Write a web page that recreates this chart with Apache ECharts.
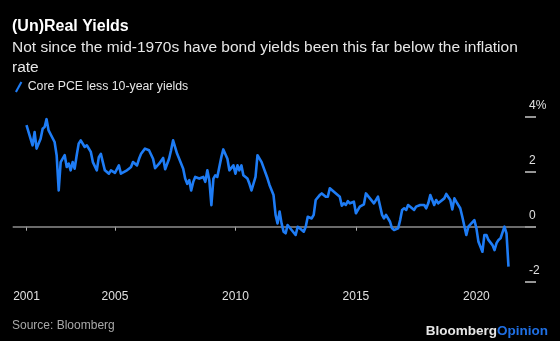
<!DOCTYPE html>
<html>
<head>
<meta charset="utf-8">
<script src="https://cdn.jsdelivr.net/npm/echarts@6/dist/echarts.min.js"></script>
<style>
  html, body { margin: 0; padding: 0; background: #000; }
  #chart { width: 560px; height: 341px; }
</style>
</head>
<body>
<div id="chart"></div>
<script>
// Core PCE inflation minus 10-year Treasury yield, monthly (percentage points)
const months = [
  '2001-05','2001-08','2001-09','2001-10','2001-12','2002-01','2002-02','2002-03','2002-04','2002-05',
  '2002-07','2002-08','2002-09','2002-10','2002-12','2003-01','2003-02','2003-03','2003-04','2003-05',
  '2003-06','2003-07','2003-08','2003-10','2003-11','2004-01','2004-02','2004-04','2004-05','2004-06',
  '2004-07','2004-08','2004-10','2004-11','2004-12','2005-01','2005-03','2005-04','2005-05','2005-07',
  '2005-08','2005-09','2005-10','2005-12','2006-01','2006-02','2006-04','2006-05','2006-06','2006-08',
  '2006-09','2006-11','2007-01','2007-02','2007-04','2007-05','2007-06','2007-08','2007-09','2007-11',
  '2007-12','2008-01','2008-02','2008-03','2008-04','2008-05','2008-07','2008-09','2008-10','2008-11',
  '2008-12','2009-01','2009-02','2009-03','2009-04','2009-06','2009-07','2009-09','2009-10','2009-12',
  '2010-01','2010-02','2010-03','2010-04','2010-05','2010-07','2010-08','2010-09','2010-11','2010-12',
  '2011-02','2011-03','2011-05','2011-06','2011-08','2011-09','2011-10','2011-11','2011-12','2012-01',
  '2012-02','2012-03','2012-05','2012-07','2012-08','2012-09','2012-11','2012-12','2013-01','2013-03',
  '2013-04','2013-05','2013-07','2013-08','2013-10','2013-11','2013-12','2014-02','2014-03','2014-05',
  '2014-06','2014-07','2014-08','2014-09','2014-10','2014-12','2015-01','2015-03','2015-05','2015-06',
  '2015-08','2015-10','2015-12','2016-02','2016-03','2016-04','2016-05','2016-06','2016-07','2016-08',
  '2016-10','2016-11','2016-12','2017-01','2017-02','2017-03','2017-05','2017-06','2017-07','2017-09',
  '2017-11','2017-12','2018-01','2018-02','2018-04','2018-05','2018-06','2018-07','2018-09','2018-10',
  '2018-12','2019-01','2019-02','2019-03','2019-05','2019-06','2019-07','2019-08','2019-09','2019-10',
  '2019-12','2020-01','2020-02','2020-04','2020-05','2020-06','2020-07','2020-09','2020-10','2020-11',
  '2020-12','2021-01','2021-03','2021-04','2021-05'
];
const spread = [
  3.69, 2.96, 3.44, 2.84, 3.20, 3.56, 3.63, 3.91, 3.50, 3.44,
  3.08, 2.60, 1.32, 2.35, 2.60, 2.17, 2.29, 2.05, 2.35, 2.11,
  2.60, 3.02, 3.14, 2.90, 2.96, 2.72, 2.35, 2.05, 2.53, 2.65,
  2.35, 2.05, 1.93, 2.05, 2.11, 1.96, 2.23, 1.93, 1.96, 2.05,
  2.11, 2.17, 2.35, 2.23, 2.47, 2.65, 2.84, 2.81, 2.78, 2.47,
  2.13, 2.29, 2.50, 2.09, 2.47, 2.78, 3.14, 2.65, 2.47, 2.11,
  1.75, 1.56, 1.69, 1.32, 1.63, 1.81, 1.75, 1.81, 1.63, 2.05,
  1.69, 0.78, 1.75, 1.87, 1.81, 2.53, 2.81, 2.47, 2.05, 2.23,
  1.93, 2.23, 2.05, 2.23, 1.87, 1.75, 1.56, 1.32, 1.81, 2.60,
  2.35, 2.30, 1.76, 1.52, 1.15, 0.43, 0.12, 0.55, 0.12, -0.18,
  -0.24, 0.06, -0.12, -0.30, 0.00, -0.06, -0.18, 0.00, 0.36, 0.30,
  0.43, 0.97, 1.15, 1.21, 1.09, 1.09, 1.40, 1.27, 1.21, 1.09,
  0.76, 0.85, 0.79, 0.93, 0.85, 0.91, 0.49, 0.73, 0.81, 1.21,
  1.03, 0.85, 1.09, 0.43, 0.30, 0.43, 0.36, 0.18, -0.06, -0.12,
  -0.06, 0.24, 0.61, 0.67, 0.61, 0.79, 0.67, 0.61, 0.73, 0.79,
  0.79, 0.67, 0.85, 1.15, 0.79, 0.97, 0.85, 0.91, 1.03, 1.19,
  0.97, 0.63, 1.03, 0.91, 0.67, 0.36, 0.30, -0.30, 0.00, 0.06,
  0.24, -0.06, -0.55, -0.91, -0.30, -0.30, -0.48, -0.67, -0.85, -0.60,
  -0.48, -0.42, 0.00, -0.24, -1.45
];
// x-axis tick positions (first month of data, then round years)
const xTickMonths = ['2001-05', '2005-01', '2010-01', '2015-01', '2020-01'];
const yTicks = [-2, 0, 2, 4];
const seriesName = 'Core PCE less 10-year yields';

const parse = s => +echarts.time.parse(s.length === 7 ? s + '-01' : s);
const points = months.map((m, i) => [parse(m), spread[i]]);
const xTicks = xTickMonths.map(parse);

const FONT = '"Liberation Sans", Arial, Helvetica, sans-serif';
const chart = echarts.init(document.getElementById('chart'), null, { renderer: 'canvas' });

chart.setOption({
  backgroundColor: '#000',
  animation: false,
  textStyle: { fontFamily: FONT },
  title: [
    {
      text: '(Un)Real Yields',
      left: 12, top: 17, padding: 0,
      textStyle: { color: '#ffffff', fontSize: 16, fontWeight: 'bold', fontFamily: FONT, lineHeight: 20 }
    },
    {
      text: 'Not since the mid-1970s have bond yields been this far below the inflation\nrate',
      left: 12, top: 38, padding: 0,
      textStyle: { color: '#e6e6e6', fontSize: 15.5, fontWeight: 'normal', fontFamily: FONT, lineHeight: 20 }
    },
    {
      text: 'Source: Bloomberg',
      left: 12, top: 319, padding: 0,
      textStyle: { color: '#a8a8a8', fontSize: 12, fontWeight: 'normal', fontFamily: FONT, lineHeight: 14 }
    },
    {
      text: '{a|Bloomberg}{b|Opinion}',
      right: 12, top: 323, padding: 0,
      textStyle: {
        fontFamily: FONT, lineHeight: 16,
        rich: {
          a: { color: '#e6e6e6', fontSize: 13.5, fontWeight: 'bold', fontFamily: FONT },
          b: { color: '#1f6fe3', fontSize: 13.5, fontWeight: 'bold', fontFamily: FONT }
        }
      }
    }
  ],
  legend: {
    left: 15, top: 81, padding: 0,
    itemWidth: 8, itemHeight: 11, itemGap: 10,
    data: [{ name: seriesName, icon: 'path://M0,11 L6,0 L8,1 L2,12 Z' }],
    textStyle: { color: '#e6e6e6', fontSize: 12.3, fontFamily: FONT }
  },
  grid: {
    left: 12.7, right: 24, top: 116.7, bottom: 59.3,
    containLabel: false, outerBoundsMode: 'none'
  },
  xAxis: {
    type: 'value',
    min: parse('2000-10-04'),
    max: parse('2022-06-22'),
    axisLine: { show: false },
    splitLine: { show: false },
    axisTick: {
      show: true, customValues: xTicks, length: 4,
      lineStyle: { color: '#b0b0b0', width: 1 }
    },
    axisLabel: {
      customValues: xTicks, margin: 9,
      color: '#e0e0e0', fontSize: 12, fontFamily: FONT,
      formatter: v => String(new Date(v).getFullYear())
    }
  },
  yAxis: {
    type: 'value', position: 'right',
    min: yTicks[0], max: yTicks[yTicks.length - 1], interval: 2,
    axisLine: { show: false },
    splitLine: { show: false },
    axisTick: { show: true, inside: true, length: 11, lineStyle: { color: '#c8c8c8', width: 1.5 } },
    axisLabel: {
      inside: true, align: 'left', margin: 7,
      verticalAlign: 'bottom', lineHeight: 14, padding: [0, 0, 4, 0],
      color: '#e0e0e0', fontSize: 12, fontFamily: FONT,
      formatter: v => (v === yTicks[yTicks.length - 1] ? v + '%' : String(v))
    }
  },
  series: [{
    name: seriesName,
    type: 'line',
    data: points,
    showSymbol: false,
    symbol: 'none',
    lineStyle: { color: '#1e7cf5', width: 2.6, join: 'round' },
    itemStyle: { color: '#1e7cf5' },
    z: 3,
    markLine: {
      silent: true,
      symbol: ['none', 'none'],
      label: { show: false },
      lineStyle: { color: '#8e8e8e', width: 1.5, type: 'solid' },
      data: [{ yAxis: 0 }],
      z: 1
    }
  }]
});
</script>
</body>
</html>
